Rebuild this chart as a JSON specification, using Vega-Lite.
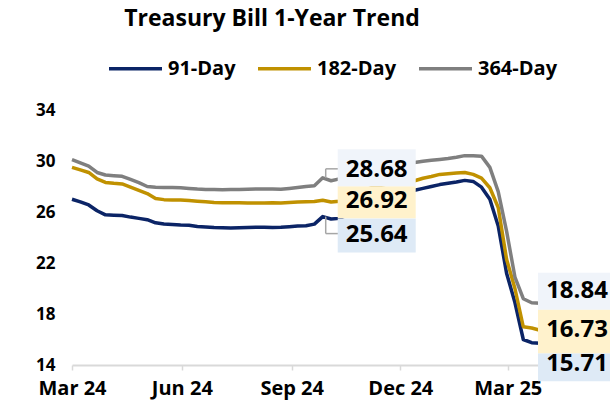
{
  "$schema": "https://vega.github.io/schema/vega-lite/v6.json",
  "width": 468,
  "height": 255,
  "autosize": {"type": "none"},
  "padding": {"left": 72, "top": 110, "right": 70, "bottom": 43},
  "background": "white",
  "config": {"font": "Open Sans", "view": {"stroke": null}},
  "title": {
    "text": "Treasury Bill 1-Year Trend",
    "fontSize": 23,
    "fontWeight": "bold",
    "font": "Open Sans",
    "color": "black",
    "anchor": "middle",
    "frame": "group",
    "dx": -34,
    "offset": -9,
    "baseline": "alphabetic"
  },
  "datasets": {
    "rates": [
      {"date": "2024-03-01", "91-Day": 27.0, "182-Day": 29.5, "364-Day": 30.1},
      {"date": "2024-03-08", "91-Day": 26.8, "182-Day": 29.3, "364-Day": 29.85},
      {"date": "2024-03-15", "91-Day": 26.55, "182-Day": 29.1, "364-Day": 29.6},
      {"date": "2024-03-22", "91-Day": 26.1, "182-Day": 28.6, "364-Day": 29.1},
      {"date": "2024-03-29", "91-Day": 25.78, "182-Day": 28.32, "364-Day": 28.9},
      {"date": "2024-04-05", "91-Day": 25.75, "182-Day": 28.25, "364-Day": 28.85},
      {"date": "2024-04-12", "91-Day": 25.72, "182-Day": 28.2, "364-Day": 28.8},
      {"date": "2024-04-19", "91-Day": 25.6, "182-Day": 27.95, "364-Day": 28.55},
      {"date": "2024-04-26", "91-Day": 25.5, "182-Day": 27.7, "364-Day": 28.3},
      {"date": "2024-05-03", "91-Day": 25.4, "182-Day": 27.45, "364-Day": 28.0},
      {"date": "2024-05-10", "91-Day": 25.15, "182-Day": 27.05, "364-Day": 27.95},
      {"date": "2024-05-17", "91-Day": 25.06, "182-Day": 26.97, "364-Day": 27.93},
      {"date": "2024-05-24", "91-Day": 25.02, "182-Day": 26.95, "364-Day": 27.92},
      {"date": "2024-05-31", "91-Day": 24.98, "182-Day": 26.95, "364-Day": 27.9},
      {"date": "2024-06-07", "91-Day": 24.96, "182-Day": 26.9, "364-Day": 27.85},
      {"date": "2024-06-14", "91-Day": 24.86, "182-Day": 26.85, "364-Day": 27.8},
      {"date": "2024-06-21", "91-Day": 24.82, "182-Day": 26.8, "364-Day": 27.77},
      {"date": "2024-06-28", "91-Day": 24.78, "182-Day": 26.75, "364-Day": 27.76},
      {"date": "2024-07-05", "91-Day": 24.76, "182-Day": 26.73, "364-Day": 27.75},
      {"date": "2024-07-12", "91-Day": 24.75, "182-Day": 26.72, "364-Day": 27.76},
      {"date": "2024-07-19", "91-Day": 24.76, "182-Day": 26.72, "364-Day": 27.77},
      {"date": "2024-07-26", "91-Day": 24.78, "182-Day": 26.71, "364-Day": 27.78},
      {"date": "2024-08-02", "91-Day": 24.8, "182-Day": 26.7, "364-Day": 27.8},
      {"date": "2024-08-09", "91-Day": 24.8, "182-Day": 26.71, "364-Day": 27.8},
      {"date": "2024-08-16", "91-Day": 24.78, "182-Day": 26.72, "364-Day": 27.8},
      {"date": "2024-08-23", "91-Day": 24.8, "182-Day": 26.7, "364-Day": 27.78},
      {"date": "2024-08-30", "91-Day": 24.85, "182-Day": 26.74, "364-Day": 27.85},
      {"date": "2024-09-06", "91-Day": 24.9, "182-Day": 26.78, "364-Day": 27.92},
      {"date": "2024-09-13", "91-Day": 24.92, "182-Day": 26.8, "364-Day": 28.0},
      {"date": "2024-09-20", "91-Day": 25.05, "182-Day": 26.82, "364-Day": 28.05},
      {"date": "2024-09-27", "91-Day": 25.64, "182-Day": 26.92, "364-Day": 28.68},
      {"date": "2024-10-04", "91-Day": 25.45, "182-Day": 26.78, "364-Day": 28.45},
      {"date": "2024-10-11", "91-Day": 25.5, "182-Day": 26.85, "364-Day": 28.6},
      {"date": "2024-10-18", "91-Day": 25.8, "182-Day": 27.1, "364-Day": 28.85},
      {"date": "2024-10-25", "91-Day": 26.1, "182-Day": 27.4, "364-Day": 29.1},
      {"date": "2024-11-01", "91-Day": 26.5, "182-Day": 27.7, "364-Day": 29.35},
      {"date": "2024-11-08", "91-Day": 26.9, "182-Day": 27.95, "364-Day": 29.55},
      {"date": "2024-11-15", "91-Day": 27.2, "182-Day": 28.1, "364-Day": 29.7},
      {"date": "2024-11-22", "91-Day": 27.4, "182-Day": 28.25, "364-Day": 29.78},
      {"date": "2024-11-29", "91-Day": 27.55, "182-Day": 28.35, "364-Day": 29.83},
      {"date": "2024-12-06", "91-Day": 27.65, "182-Day": 28.42, "364-Day": 29.86},
      {"date": "2024-12-13", "91-Day": 27.7, "182-Day": 28.45, "364-Day": 29.88},
      {"date": "2024-12-20", "91-Day": 27.85, "182-Day": 28.65, "364-Day": 29.98},
      {"date": "2024-12-27", "91-Day": 28.0, "182-Day": 28.78, "364-Day": 30.05},
      {"date": "2025-01-03", "91-Day": 28.15, "182-Day": 28.95, "364-Day": 30.12},
      {"date": "2025-01-10", "91-Day": 28.25, "182-Day": 29.0, "364-Day": 30.2},
      {"date": "2025-01-17", "91-Day": 28.35, "182-Day": 29.05, "364-Day": 30.3},
      {"date": "2025-01-24", "91-Day": 28.48, "182-Day": 29.1, "364-Day": 30.42},
      {"date": "2025-01-31", "91-Day": 28.4, "182-Day": 28.95, "364-Day": 30.42},
      {"date": "2025-02-07", "91-Day": 27.95, "182-Day": 28.65, "364-Day": 30.38},
      {"date": "2025-02-14", "91-Day": 27.0, "182-Day": 27.9, "364-Day": 29.5},
      {"date": "2025-02-21", "91-Day": 24.9, "182-Day": 26.35, "364-Day": 27.6},
      {"date": "2025-02-28", "91-Day": 21.2, "182-Day": 22.3, "364-Day": 24.5},
      {"date": "2025-03-07", "91-Day": 18.9, "182-Day": 20.0, "364-Day": 20.9},
      {"date": "2025-03-14", "91-Day": 16.0, "182-Day": 17.0, "364-Day": 19.2},
      {"date": "2025-03-21", "91-Day": 15.75, "182-Day": 16.9, "364-Day": 18.88},
      {"date": "2025-03-28", "91-Day": 15.71, "182-Day": 16.73, "364-Day": 18.84}
    ],
    "midLabels": [
      {"date": "2024-09-27", "series": "91-Day", "value": 25.64},
      {"date": "2024-09-27", "series": "182-Day", "value": 26.92},
      {"date": "2024-09-27", "series": "364-Day", "value": 28.68}
    ],
    "endLabels": [
      {"date": "2025-03-28", "series": "91-Day", "value": 15.71},
      {"date": "2025-03-28", "series": "182-Day", "value": 16.73},
      {"date": "2025-03-28", "series": "364-Day", "value": 18.84}
    ]
  },
  "encoding": {
    "x": {
      "field": "date",
      "type": "temporal",
      "title": null,
      "scale": {
        "type": "utc",
        "domain": [
          {"year": 2024, "month": 3, "date": 1, "utc": true},
          {"year": 2025, "month": 3, "date": 28, "utc": true}
        ]
      },
      "axis": {
        "values": [
          {"year": 2024, "month": 3, "date": 1, "utc": true},
          {"year": 2024, "month": 6, "date": 1, "utc": true},
          {"year": 2024, "month": 9, "date": 1, "utc": true},
          {"year": 2024, "month": 12, "date": 1, "utc": true},
          {"year": 2025, "month": 3, "date": 1, "utc": true}
        ],
        "format": "%b %y",
        "labelFontSize": 20,
        "labelFontWeight": "bold",
        "labelFont": "Open Sans",
        "labelColor": "black",
        "labelPadding": 8,
        "labelFlush": false,
        "labelOverlap": false,
        "domainColor": "#D9D9D9",
        "domainWidth": 2,
        "tickColor": "#D9D9D9",
        "tickWidth": 1.5,
        "tickSize": 5,
        "grid": false
      }
    },
    "y": {
      "field": "value",
      "type": "quantitative",
      "title": null,
      "scale": {"domain": [14, 34], "nice": false, "zero": false},
      "axis": {
        "values": [14, 18, 22, 26, 30, 34],
        "labelFontSize": 17,
        "labelFontWeight": "bold",
        "labelFont": "Open Sans",
        "labelColor": "black",
        "labelPadding": 17,
        "domain": false,
        "ticks": false,
        "grid": false
      }
    }
  },
  "layer": [
    {
      "data": {"name": "rates"},
      "transform": [{"fold": ["91-Day", "182-Day", "364-Day"], "as": ["series", "value"]}],
      "mark": {"type": "line", "strokeWidth": 3.5, "strokeJoin": "round"},
      "encoding": {
        "color": {
          "field": "series",
          "type": "nominal",
          "scale": {"domain": ["91-Day", "182-Day", "364-Day"], "range": ["#0B2466", "#C09100", "#7F7F7F"]},
          "legend": {
            "orient": "none",
            "direction": "horizontal",
            "legendX": 35,
            "legendY": -70,
            "title": null,
            "symbolType": "stroke",
            "symbolSize": 2809,
            "symbolStrokeWidth": 3.5,
            "labelFontSize": 20,
            "labelFont": "Open Sans",
            "labelFontWeight": "bold",
            "labelColor": "black",
            "labelOffset": 4,
            "columnPadding": 15,
            "padding": 0
          }
        }
      }
    },
    {
      "data": {"name": "midLabels"},
      "transform": [{"filter": {"field": "series", "equal": "364-Day"}}],
      "layer": [
        {"mark": {"type": "rule", "xOffset": 3, "y2Offset": -9, "color": "#A6A6A6", "strokeWidth": 1.5}, "encoding": {"y2": {"field": "value"}}},
        {"mark": {"type": "rule", "xOffset": 3, "x2Offset": 16, "yOffset": -9, "color": "#A6A6A6", "strokeWidth": 1.5}, "encoding": {"x2": {"field": "date"}}}
      ]
    },
    {
      "data": {"name": "midLabels"},
      "transform": [{"filter": {"field": "series", "equal": "91-Day"}}],
      "layer": [
        {"mark": {"type": "rule", "xOffset": 3, "y2Offset": 17, "color": "#A6A6A6", "strokeWidth": 1.5}, "encoding": {"y2": {"field": "value"}}},
        {"mark": {"type": "rule", "xOffset": 3, "x2Offset": 16, "yOffset": 17, "color": "#A6A6A6", "strokeWidth": 1.5}, "encoding": {"x2": {"field": "date"}}}
      ]
    },
    {
      "data": {"name": "midLabels"},
      "transform": [{"filter": {"field": "series", "equal": "91-Day"}}],
      "layer": [
        {"mark": {"type": "rect", "width": 78, "height": 34, "xOffset": 54, "yOffset": 19, "color": "#DEEAF6"}},
        {"mark": {"type": "text", "xOffset": 54, "yOffset": 18, "fontSize": 24, "fontWeight": "bold", "font": "Open Sans", "color": "black"}, "encoding": {"text": {"field": "value", "type": "quantitative", "format": ".2f"}}}
      ]
    },
    {
      "data": {"name": "midLabels"},
      "transform": [{"filter": {"field": "series", "equal": "182-Day"}}],
      "layer": [
        {"mark": {"type": "rect", "width": 78, "height": 32, "xOffset": 54, "yOffset": 2, "color": "#FFF2CC"}},
        {"mark": {"type": "text", "xOffset": 54, "yOffset": 1, "fontSize": 24, "fontWeight": "bold", "font": "Open Sans", "color": "black"}, "encoding": {"text": {"field": "value", "type": "quantitative", "format": ".2f"}}}
      ]
    },
    {
      "data": {"name": "midLabels"},
      "transform": [{"filter": {"field": "series", "equal": "364-Day"}}],
      "layer": [
        {"mark": {"type": "rect", "width": 78, "height": 37, "xOffset": 54, "yOffset": -10, "color": "#F0F4FA"}},
        {"mark": {"type": "text", "xOffset": 54, "yOffset": -8, "fontSize": 24, "fontWeight": "bold", "font": "Open Sans", "color": "black"}, "encoding": {"text": {"field": "value", "type": "quantitative", "format": ".2f"}}}
      ]
    },
    {
      "data": {"name": "endLabels"},
      "transform": [{"filter": {"field": "series", "equal": "91-Day"}}],
      "layer": [
        {"mark": {"type": "rect", "width": 78, "height": 28, "xOffset": 37, "yOffset": 24, "color": "#DEEAF6"}},
        {"mark": {"type": "text", "xOffset": 37, "yOffset": 21, "fontSize": 24, "fontWeight": "bold", "font": "Open Sans", "color": "black"}, "encoding": {"text": {"field": "value", "type": "quantitative", "format": ".2f"}}}
      ]
    },
    {
      "data": {"name": "endLabels"},
      "transform": [{"filter": {"field": "series", "equal": "182-Day"}}],
      "layer": [
        {"mark": {"type": "rect", "width": 78, "height": 44, "xOffset": 37, "yOffset": 1, "color": "#FFF2CC"}},
        {"mark": {"type": "text", "xOffset": 37, "yOffset": 0, "fontSize": 24, "fontWeight": "bold", "font": "Open Sans", "color": "black"}, "encoding": {"text": {"field": "value", "type": "quantitative", "format": ".2f"}}}
      ]
    },
    {
      "data": {"name": "endLabels"},
      "transform": [{"filter": {"field": "series", "equal": "364-Day"}}],
      "layer": [
        {"mark": {"type": "rect", "width": 78, "height": 37, "xOffset": 37, "yOffset": -12, "color": "#F0F4FA"}},
        {"mark": {"type": "text", "xOffset": 37, "yOffset": -12, "fontSize": 24, "fontWeight": "bold", "font": "Open Sans", "color": "black"}, "encoding": {"text": {"field": "value", "type": "quantitative", "format": ".2f"}}}
      ]
    }
  ]
}
